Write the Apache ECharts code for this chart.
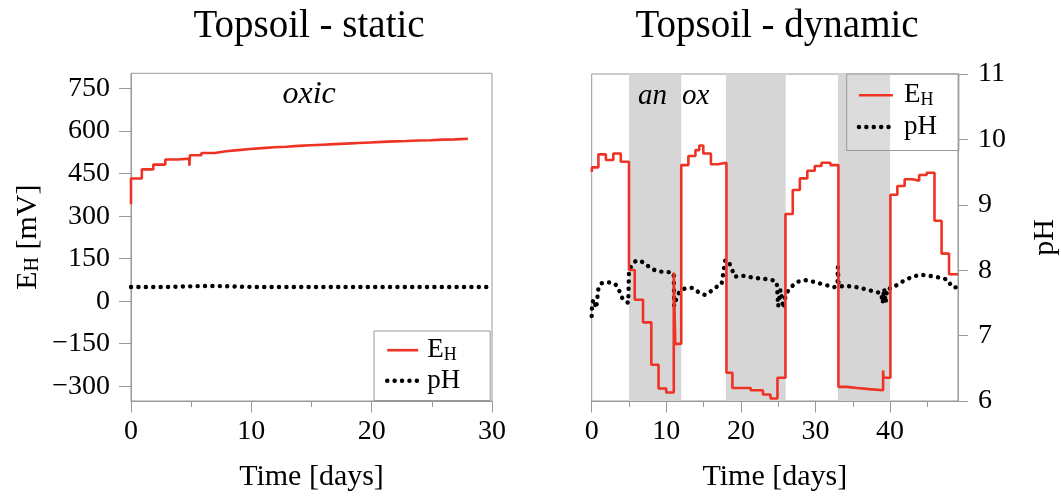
<!DOCTYPE html>
<html><head><meta charset="utf-8">
<script src="https://cdn.jsdelivr.net/npm/echarts@6/dist/echarts.min.js"></script>
<style>html,body{margin:0;padding:0;background:#fff}#c{width:1061px;height:497px}</style>
</head><body><div id="c"></div>
<script>
// ---- data ----
const titles = ['Topsoil - static', 'Topsoil - dynamic'];
const staticTime = [0, 0, 0.9, 1.85, 2.85, 3.9, 4.85, 4.9, 5.85, 6.95, 7.9, 8.9, 9.9, 10.9, 11.9, 12.9, 13.9, 14.9, 15.9, 16.9, 17.9, 18.9, 19.9, 20.9, 21.9, 22.9, 23.9, 24.9, 25.9, 26.9, 28.0];
const staticEH = [342, 433, 465, 482, 500, 503, 478, 515, 523, 529, 533, 537, 540, 543, 545, 548, 550, 552, 554, 556, 558, 560, 562, 564, 565, 567, 568, 570, 571, 573, 574];
const staticPhTime = [0, 1, 2, 3, 4, 5, 6, 7, 8, 9, 10, 11, 12, 13, 14, 15, 16, 17, 18, 19, 20, 21, 22, 23, 24, 25, 26, 27, 28, 29, 30];
const staticPH = [7.74, 7.74, 7.74, 7.74, 7.745, 7.75, 7.755, 7.755, 7.75, 7.745, 7.74, 7.74, 7.74, 7.74, 7.74, 7.74, 7.74, 7.74, 7.74, 7.74, 7.74, 7.74, 7.74, 7.74, 7.74, 7.74, 7.74, 7.74, 7.74, 7.74, 7.74];

const dynTime = [0, 0.05, 0.9, 1.9, 2.9, 3.9, 5.0, 5.77, 6.88, 7.99, 8.96, 9.99, 11.0, 11.2, 12.0, 12.96, 13.9, 14.42, 14.96, 15.98, 16.87, 18.06, 18.86, 21.31, 22.95, 23.97, 24.9, 25.97, 26.95, 27.9, 28.9, 29.9, 30.8, 32.0, 33.07, 34.2, 35.6, 37.2, 39.06, 39.12, 40.04, 40.97, 41.95, 42.95, 43.9, 44.9, 45.95, 46.9, 47.9, 49.1];
const dynEH = [458, 474, 520, 500, 523, 494, 111, 6, -74, -224, -308, -322, 102, -150, 482, 514, 535, 551, 523, 485, 490, -252, -306, -314, -329, -343, -270, 309, 394, 435, 462, 479, 490, 482, -302, -306, -310, -314, -244, -270, 377, 408, 432, 427, 447, 455, 285, 169, 96, 96];
const dynPhTime = [0, 0.05, 0.3, 0.6, 0.9, 1.3, 2, 3, 3.5, 3.9, 4.2, 4.9, 5.0, 5.5, 6.0, 7, 8, 9, 10.5, 11.0, 11.05, 11.3, 11.8, 12.5, 13.5, 14.5, 15.2, 16, 16.8, 17.4, 17.9, 18.3, 19.2, 20, 21, 22, 23, 24.2, 24.8, 25.0, 25.3, 25.7, 26.0, 26.5, 27.5, 28.5, 29.5, 30.5, 31.5, 32.5, 32.95, 33.0, 33.1, 34, 35, 36, 37, 38, 38.8, 39.0, 39.2, 39.4, 39.6, 40.2, 41, 42, 43, 44, 45, 46, 47, 47.8, 48.2, 49.1];
const dynPH = [7.3, 7.5, 7.55, 7.42, 7.72, 7.8, 7.82, 7.8, 7.75, 7.62, 7.55, 7.5, 8.0, 8.1, 8.15, 8.12, 8.02, 7.98, 7.97, 7.95, 7.45, 7.55, 7.68, 7.72, 7.73, 7.65, 7.62, 7.68, 7.75, 7.78, 8.15, 8.15, 7.9, 7.92, 7.9, 7.88, 7.87, 7.85, 7.82, 7.45, 7.7, 7.42, 7.62, 7.72, 7.82, 7.85, 7.83, 7.8, 7.77, 7.74, 7.78, 8.05, 7.75, 7.76, 7.75, 7.73, 7.7, 7.67, 7.65, 7.5, 7.72, 7.5, 7.72, 7.72, 7.78, 7.85, 7.9, 7.93, 7.92, 7.9, 7.88, 7.85, 7.75, 7.73];

const anoxicPeriods = [[5, 12], [18, 26], [33, 40]];
const ehTicks = [-300, -150, 0, 150, 300, 450, 600, 750];
const staticDayTicks = [0, 10, 20, 30];
const staticDayMinor = [5, 15, 25];
const dynDayTicks = [0, 10, 20, 30, 40];
const dynDayMinor = [5, 15, 25, 35, 45];
const staticNotes = [{ text: 'oxic', day: 14.8, eh: 728 }];
const dynNotes = [{ text: 'an', day: 8.16, ph: 10.66 }, { text: 'ox', day: 13.93, ph: 10.66 }];

// ---- styles ----
const FONT = "'Liberation Serif', 'DejaVu Serif', serif";
const RED = '#ee3224';
const GRAY = '#999999';
const zip = (a, b) => a.map((v, i) => [v, b[i]]);
const phLine = { color: '#000', width: 4.4, type: [0.1, 7.3], cap: 'round' };
const subRich = (pad) => ({
  a: { fontFamily: FONT, fontSize: 27, lineHeight: 28, color: '#000', padding: [0, 0, 0, pad] },
  s: { fontFamily: FONT, fontSize: 18, lineHeight: 14, color: '#000', verticalAlign: 'bottom' }
});
const legendFmt = n => n === 'E_H' ? '{a|E}{s|H}' : '{a|pH}';

function xAxes(grid, max, major, minor) {
  return [
    {
      gridIndex: grid, type: 'value', min: 0, max: max, position: 'bottom',
      axisLine: { show: true, onZero: false, lineStyle: { color: GRAY, width: 1 } },
      axisTick: { show: true, customValues: major, length: 11.5, lineStyle: { color: GRAY } },
      axisLabel: { customValues: major, fontFamily: FONT, fontSize: 28, color: '#000', margin: 17, lineHeight: 28 },
      splitLine: { show: false },
      name: 'Time [days]', nameLocation: 'middle', nameGap: 61,
      nameTextStyle: { fontFamily: FONT, fontSize: 30, color: '#000', lineHeight: 30 }
    },
    {
      gridIndex: grid, type: 'value', min: 0, max: max, position: 'bottom',
      axisLine: { show: false, onZero: false }, axisLabel: { show: false }, splitLine: { show: false },
      axisTick: { show: true, customValues: minor, length: 6, lineStyle: { color: GRAY } }
    }
  ];
}

const option = {
  animation: false,
  backgroundColor: '#fff',
  title: [
    { text: titles[0], left: 309, top: 7, textAlign: 'center', padding: 0,
      textStyle: { fontFamily: FONT, fontSize: 39, fontWeight: 'normal', color: '#000', lineHeight: 39 } },
    { text: titles[1], left: 777, top: 7, textAlign: 'center', padding: 0,
      textStyle: { fontFamily: FONT, fontSize: 39, fontWeight: 'normal', color: '#000', lineHeight: 39 } }
  ],
  grid: [
    { left: 131, top: 73.3, width: 361, height: 329, show: true, borderColor: GRAY, borderWidth: 1, backgroundColor: 'transparent' },
    { left: 591.7, top: 74, width: 368.5, height: 329.3, show: true, borderColor: GRAY, borderWidth: 1, backgroundColor: 'transparent' }
  ],
  xAxis: [].concat(xAxes(0, 30, staticDayTicks, staticDayMinor), xAxes(1, 49.1, dynDayTicks, dynDayMinor)),
  yAxis: [
    {
      gridIndex: 0, type: 'value', min: -352, max: 804, position: 'left',
      axisLine: { show: true, onZero: false, lineStyle: { color: GRAY } },
      axisTick: { show: true, customValues: ehTicks, length: 12, lineStyle: { color: GRAY } },
      axisLabel: { customValues: ehTicks, fontFamily: FONT, fontSize: 28, color: '#000', margin: 21,
        formatter: v => String(v).replace('-', '\u2212') },
      splitLine: { show: false },
      name: '{b|E}{s|H}{b| [mV]}', nameLocation: 'middle', nameGap: 88, nameRotate: 90,
      nameTextStyle: { rich: {
        b: { fontFamily: FONT, fontSize: 30, lineHeight: 30, color: '#000' },
        s: { fontFamily: FONT, fontSize: 20, lineHeight: 14, color: '#000', verticalAlign: 'bottom' } } }
    },
    { gridIndex: 0, type: 'value', min: 6, max: 11, show: false, position: 'right',
      axisLine: { show: false, onZero: false }, axisTick: { show: false }, axisLabel: { show: false }, splitLine: { show: false } },
    { gridIndex: 1, type: 'value', min: -352, max: 804, show: false, position: 'left',
      axisLine: { show: false, onZero: false }, axisTick: { show: false }, axisLabel: { show: false }, splitLine: { show: false } },
    {
      gridIndex: 1, type: 'value', min: 6, max: 11, interval: 1, position: 'right',
      axisLine: { show: true, onZero: false, lineStyle: { color: GRAY } },
      axisTick: { show: true, length: 10, lineStyle: { color: GRAY } },
      axisLabel: { fontFamily: FONT, fontSize: 28, color: '#000', margin: 20 },
      splitLine: { show: false },
      name: 'pH', nameLocation: 'middle', nameGap: 72, nameRotate: 90,
      nameTextStyle: { fontFamily: FONT, fontSize: 30, color: '#000', lineHeight: 30 }
    }
  ],
  legend: [
    {
      orient: 'vertical', left: 374, top: 331, align: 'left',
      data: [{ name: 'E_H', lineStyle: { width: 2.6 } }, { name: 'pH', lineStyle: { width: 4.4 } }],
      itemWidth: 31, itemHeight: 14, itemGap: 3, padding: [5.7, 30, 6.3, 11],
      borderColor: GRAY, borderWidth: 1, backgroundColor: '#fff',
      itemStyle: { opacity: 0 }, selectedMode: false,
      formatter: legendFmt, textStyle: { fontFamily: FONT, fontSize: 27, rich: subRich(4) }
    },
    {
      orient: 'vertical', left: 846.7, top: 74, align: 'left',
      data: [{ name: 'E_H', lineStyle: { width: 2.6 } }, { name: 'pH', lineStyle: { width: 4.4 } }],
      itemWidth: 34, itemHeight: 14, itemGap: 4.3, padding: [7.7, 22, 10, 10],
      borderColor: GRAY, borderWidth: 1, backgroundColor: 'rgba(255,255,255,0.15)',
      itemStyle: { opacity: 0 }, selectedMode: false,
      formatter: legendFmt, textStyle: { fontFamily: FONT, fontSize: 27, rich: subRich(6) }
    }
  ],
  series: [
    {
      name: 'E_H', type: 'line', xAxisIndex: 0, yAxisIndex: 0, step: 'end',
      data: zip(staticTime, staticEH), symbol: 'none', showSymbol: false, z: 3,
      itemStyle: { color: RED }, lineStyle: { color: RED, width: 2.6 },
      markPoint: {
        symbol: 'rect', symbolSize: 1, itemStyle: { color: 'rgba(0,0,0,0)' }, silent: true,
        label: { show: true, position: 'inside', formatter: p => p.name, fontFamily: FONT, fontStyle: 'italic', fontSize: 32, color: '#000' },
        data: staticNotes.map(n => ({ name: n.text, coord: [n.day, n.eh] }))
      }
    },
    {
      name: 'pH', type: 'line', xAxisIndex: 0, yAxisIndex: 1,
      data: zip(staticPhTime, staticPH), symbol: 'none', showSymbol: false, z: 2,
      itemStyle: { color: '#000' }, lineStyle: phLine
    },
    {
      name: 'E_H', type: 'line', xAxisIndex: 2, yAxisIndex: 2, step: 'end',
      data: zip(dynTime, dynEH), symbol: 'none', showSymbol: false, z: 3,
      itemStyle: { color: RED }, lineStyle: { color: RED, width: 2.6 },
      markArea: {
        silent: true, itemStyle: { color: '#d6d6d6', opacity: 1 },
        data: anoxicPeriods.map(([a, b]) => [{ xAxis: a }, { xAxis: b }])
      }
    },
    {
      name: 'pH', type: 'line', xAxisIndex: 2, yAxisIndex: 3,
      data: zip(dynPhTime, dynPH), symbol: 'none', showSymbol: false, z: 2,
      itemStyle: { color: '#000' }, lineStyle: phLine,
      markPoint: {
        symbol: 'rect', symbolSize: 1, itemStyle: { color: 'rgba(0,0,0,0)' }, silent: true,
        label: { show: true, position: 'inside', formatter: p => p.name, fontFamily: FONT, fontStyle: 'italic', fontSize: 29, color: '#000' },
        data: dynNotes.map(n => ({ name: n.text, coord: [n.day, n.ph] }))
      }
    }
  ]
};
const chart = echarts.init(document.getElementById('c'), null, { renderer: 'canvas' });
chart.setOption(option);
</script></body></html>
